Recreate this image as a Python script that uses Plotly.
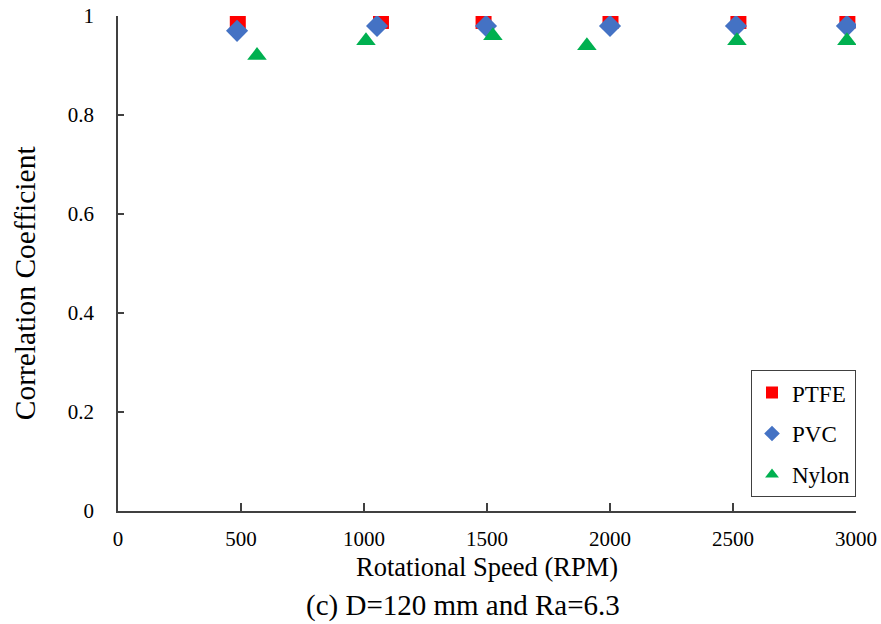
import plotly.graph_objects as go

ptfe_x = [487, 1069, 1486, 2002, 2522, 2965]
ptfe_y = [0.99, 0.99, 0.99, 0.99, 0.99, 0.99]
pvc_x = [484, 1053, 1496, 2000, 2512, 2963]
pvc_y = [0.97, 0.98, 0.98, 0.98, 0.98, 0.98]
nylon_x = [565, 1008, 1524, 1906, 2516, 2963]
nylon_y = [0.92, 0.95, 0.96, 0.94, 0.95, 0.95]

x_ticks = [0, 500, 1000, 1500, 2000, 2500, 3000]
y_ticks = [0, 0.2, 0.4, 0.6, 0.8, 1]
y_labels = ["0", "0.2", "0.4", "0.6", "0.8", "1"]

FONT = "Liberation Serif, Times New Roman, DejaVu Serif, serif"
AX = "#404040"

fig = go.Figure()
fig.add_trace(go.Scatter(x=ptfe_x, y=ptfe_y, mode="markers", name="PTFE", legendgroup="a",
                         marker=dict(symbol="square", size=16, color="#FF0000")))
fig.add_trace(go.Scatter(x=pvc_x, y=pvc_y, mode="markers", name="PVC", legendgroup="b",
                         marker=dict(symbol="diamond", size=17, color="#4472C4")))
fig.add_trace(go.Scatter(x=nylon_x, y=nylon_y, mode="markers", name="Nylon", legendgroup="c",
                         marker=dict(symbol="triangle-up", size=17, color="#00B050")))

fig.update_layout(
    width=881, height=624,
    margin=dict(l=118, r=25, t=16, b=113, autoexpand=False),
    paper_bgcolor="white", plot_bgcolor="white",
    font=dict(family=FONT, size=21, color="#000000"),
    showlegend=True,
    legend=dict(x=1.0, xanchor="right", y=0.028, yanchor="bottom",
                bordercolor=AX, borderwidth=1, bgcolor="white",
                font=dict(family=FONT, size=23), itemsizing="constant",
                tracegroupgap=8),
    xaxis=dict(range=[0, 3000], tickvals=x_ticks, ticktext=[str(v) for v in x_ticks],
               showgrid=False, zeroline=False, showline=True, linecolor=AX, linewidth=1.5,
               ticks="inside", ticklen=8, tickcolor=AX, tickwidth=1.5,
               ticklabelstandoff=8, automargin=False, ticklabeloverflow="allow",
               title=dict(text="Rotational Speed (RPM)", font=dict(family=FONT, size=26.5), standoff=7)),
    yaxis=dict(range=[0, 1], tickvals=y_ticks, ticktext=y_labels,
               showgrid=False, zeroline=False, showline=True, linecolor=AX, linewidth=1.5,
               ticks="inside", ticklen=6, tickcolor=AX, tickwidth=1.5,
               ticklabelstandoff=18, automargin=False, ticklabeloverflow="allow"),
    annotations=[
        dict(text="(c) D=120 mm and Ra=6.3", xref="paper", yref="paper",
             x=0.467, y=0, yshift=-94, xanchor="center", yanchor="middle",
             showarrow=False, font=dict(family=FONT, size=29)),
        dict(text="Correlation Coefficient", xref="paper", yref="paper",
             x=0, xshift=-93, y=0.46, xanchor="center", yanchor="middle", textangle=-90,
             showarrow=False, font=dict(family=FONT, size=29.5)),
    ],
)

fig.write_html("out.html", config={"displayModeBar": False},
               post_script="document.body.style.margin='0';document.body.style.overflow='hidden';")
